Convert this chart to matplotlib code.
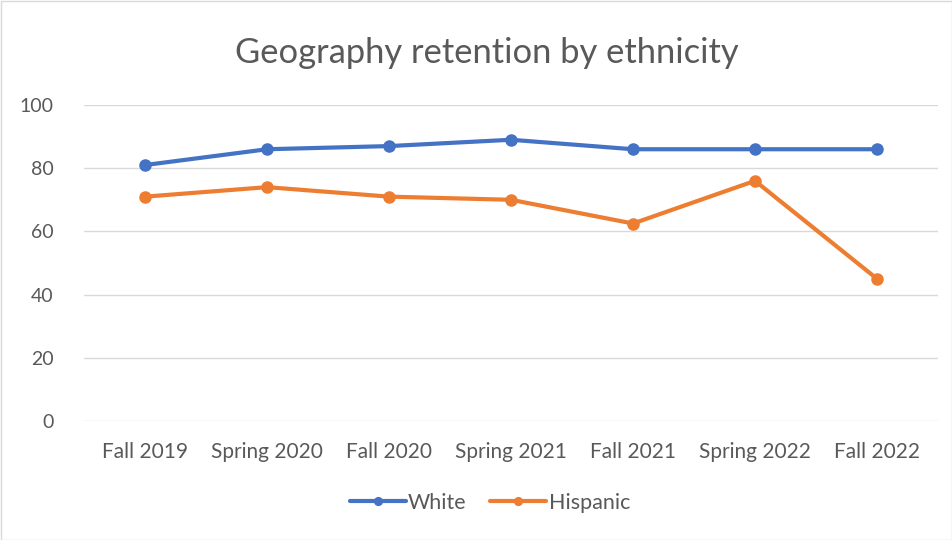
import matplotlib
matplotlib.use("Agg")
import matplotlib.pyplot as plt
from matplotlib.patches import Rectangle

terms = ["Fall 2019", "Spring 2020", "Fall 2020", "Spring 2021",
         "Fall 2021", "Spring 2022", "Fall 2022"]
white = [81, 86, 87, 89, 86, 86, 86]
hispanic = [71, 74, 71, 70, 62.5, 76, 45]
yticks = [0, 20, 40, 60, 80, 100]

BLUE = "#4472C4"
ORANGE = "#ED7D31"
TXT = "#595959"

plt.rcParams["font.family"] = ["Lato", "DejaVu Sans"]

fig = plt.figure(figsize=(9.53, 5.40), dpi=100)
ax = fig.add_axes([84 / 953, 1 - 421 / 540, (938 - 84) / 953, (421 - 105) / 540])

x = range(len(terms))
ax.plot(x, white, color=BLUE, lw=3, marker="o", ms=8, label="White",
        solid_capstyle="round")
ax.plot(x, hispanic, color=ORANGE, lw=3, marker="o", ms=8, label="Hispanic",
        solid_capstyle="round")

ax.set_xlim(-0.5, len(terms) - 0.5)
ax.set_ylim(0, 100)
ax.set_yticks(yticks)
ax.set_xticks(list(x))
ax.set_xticklabels(terms)
ax.tick_params(length=0, colors=TXT, labelsize=14)
ax.tick_params(axis="x", pad=15, labelsize=15)
ax.tick_params(axis="y", pad=22)
ax.grid(axis="y", color="#D9D9D9", lw=1)
ax.set_axisbelow(True)
for s in ax.spines.values():
    s.set_visible(False)

fig.text(487 / 953, 1 - 53 / 540, "Geography retention by ethnicity",
         ha="center", va="center", fontsize=24.8, color=TXT)

fig.legend(loc="center", bbox_to_anchor=(490 / 953, 1 - 503 / 540), ncol=2,
           frameon=False, fontsize=15.5, labelcolor=TXT, handlelength=2.6,
           handletextpad=0.1, columnspacing=1.1, markerscale=0.7)

fig.patches.append(Rectangle((0.5 / 953, 0.5 / 540), 1 - 1 / 953, 1 - 1 / 540,
                             transform=fig.transFigure, fill=False,
                             edgecolor="#D9D9D9", lw=1))

fig.savefig("out.png", dpi=100)
